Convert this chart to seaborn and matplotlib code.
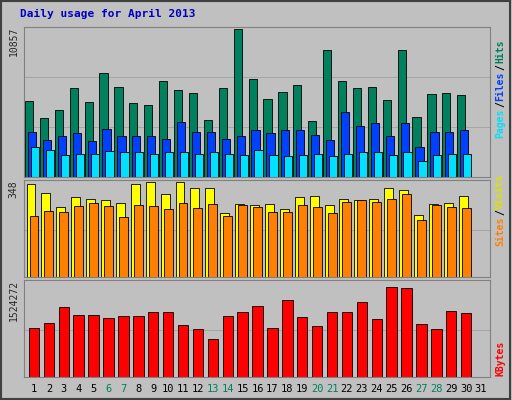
import matplotlib
matplotlib.use("Agg")
import matplotlib.pyplot as plt
import seaborn as sns
import numpy as np

days = list(range(1, 32))
day_labels = [str(d) for d in days]
weekend = [6, 7, 13, 14, 20, 21, 27, 28]
hits = [5500,4260,4840,6460,5430,7560,6530,5360,5210,6970,6310,6090,4180,6460,10790,
        7120,5650,6170,6680,4040,9250,6970,6460,6530,5580,9250,4330,6020,6090,5950]
files = [3300,2700,2950,3200,2650,3500,2950,2950,2950,2800,4000,3300,3300,2800,3000,
         3400,3200,3400,3400,3050,2700,4700,3700,3900,3000,3900,2200,3300,3300,3400]
pages = [2200,2000,1600,1700,1700,1900,1800,1800,1700,1800,1800,1700,1800,1700,1600,
         2000,1600,1500,1600,1700,1500,1700,1800,1800,1600,1800,1200,1600,1700,1700]
visits = [345,310,258,295,290,285,272,345,350,305,350,330,330,237,268,265,270,250,295,
          300,265,290,285,290,330,320,230,268,272,300]
sites = [225,245,242,262,272,262,220,265,262,250,272,255,270,225,265,260,240,240,265,
         260,238,278,285,277,290,305,210,265,260,255]
kbytes = [800000,880000,1135000,1010000,1010000,960000,985000,985000,1060000,1060000,
          840000,785000,610000,990000,1060000,1145000,800000,1240000,970000,820000,1050000,
          1050000,1220000,935000,1450000,1440000,850000,780000,1070000,1040000]
max_hits, max_vis, max_kb = 10857, 348, 1524272

sns.set_style("white")
BG = "#C0C0C0"
fig = plt.figure(figsize=(5.12, 4.0), dpi=100, facecolor=BG)
fig.patches.append(plt.Rectangle((0.002, 0.002), 0.995, 0.995, transform=fig.transFigure,
                                 fill=False, edgecolor="#404040", lw=1.5))

def mkax(top, bot):
    ax = fig.add_axes([24/512, 1-bot/400, 466/512, (bot-top)/400])
    ax.set_facecolor(BG)
    ax.set_xlim(0.33, 31.6)
    ax.set_xticks([]); ax.set_yticks([])
    for s in ax.spines.values():
        s.set_color("#808080")
    return ax

x = np.arange(1, 31)
ax1 = mkax(27, 177)
ax1.set_ylim(0, max_hits*1.005)
for off, vals, col in [(-0.33, hits, "#00805C"), (-0.13, files, "#0040FF"), (0.07, pages, "#00E0FF")]:
    ax1.bar(x+off, vals, width=0.55, color=col, edgecolor="black", lw=0.6)
for y0 in [max_hits/3, 2*max_hits/3]:
    ax1.axhline(y0, color="#A0A0A0", lw=0.6, zorder=0)

ax2 = mkax(180, 277)
ax2.set_ylim(0, max_vis*1.03)
ax2.bar(x-0.2, visits, width=0.6, color="#FFFF00", edgecolor="black", lw=0.6)
ax2.bar(x+0.0, sites, width=0.6, color="#FF8000", edgecolor="black", lw=0.6)
ax2.axhline(max_vis/2, color="#A0A0A0", lw=0.6, zorder=0)

ax3 = mkax(280, 377)
ax3.set_ylim(0, max_kb*1.03)
ax3.bar(x, kbytes, width=0.7, color="#FF0000", edgecolor="black", lw=0.6)
ax3.axhline(max_kb/2, color="#A0A0A0", lw=0.6, zorder=0)

for d, lab in zip(days, day_labels):
    ax3.text(d, -0.12, lab, transform=ax3.get_xaxis_transform(), ha="center", va="center",
             fontsize=7.5, family="DejaVu Sans Mono",
             color="#00805C" if d in weekend else "black")

fig.text(20/512, 1-14/400, "Daily usage for April 2013", color="#0000C0", fontsize=8,
         family="DejaVu Sans Mono", weight="bold", va="center")
for ax, lab in [(ax1, "10857"), (ax2, "348"), (ax3, "1524272")]:
    ax.text(-0.022, 1.0, lab, transform=ax.transAxes, rotation=90, ha="center", va="top",
            fontsize=7, family="DejaVu Sans Mono")

def rlabel(ypix, parts):
    fs = 7
    y = 1-ypix/400
    for t, c in parts:
        fig.text(500/512, y, t, rotation=90, color=c, fontsize=fs, family="DejaVu Sans Mono",
                 weight="bold", ha="center", va="bottom")
        y += len(t)*fs*0.64/72*100/400
rlabel(138, [("Pages", "#00E0FF"), ("/", "black"), ("Files", "#0040FF"), ("/", "black"), ("Hits", "#00805C")])
rlabel(246, [("Sites", "#FF8000"), ("/", "black"), ("Visits", "#E0E000")])
rlabel(376, [("KBytes", "#FF0000")])

fig.savefig("out.png", dpi=100, facecolor=BG)
